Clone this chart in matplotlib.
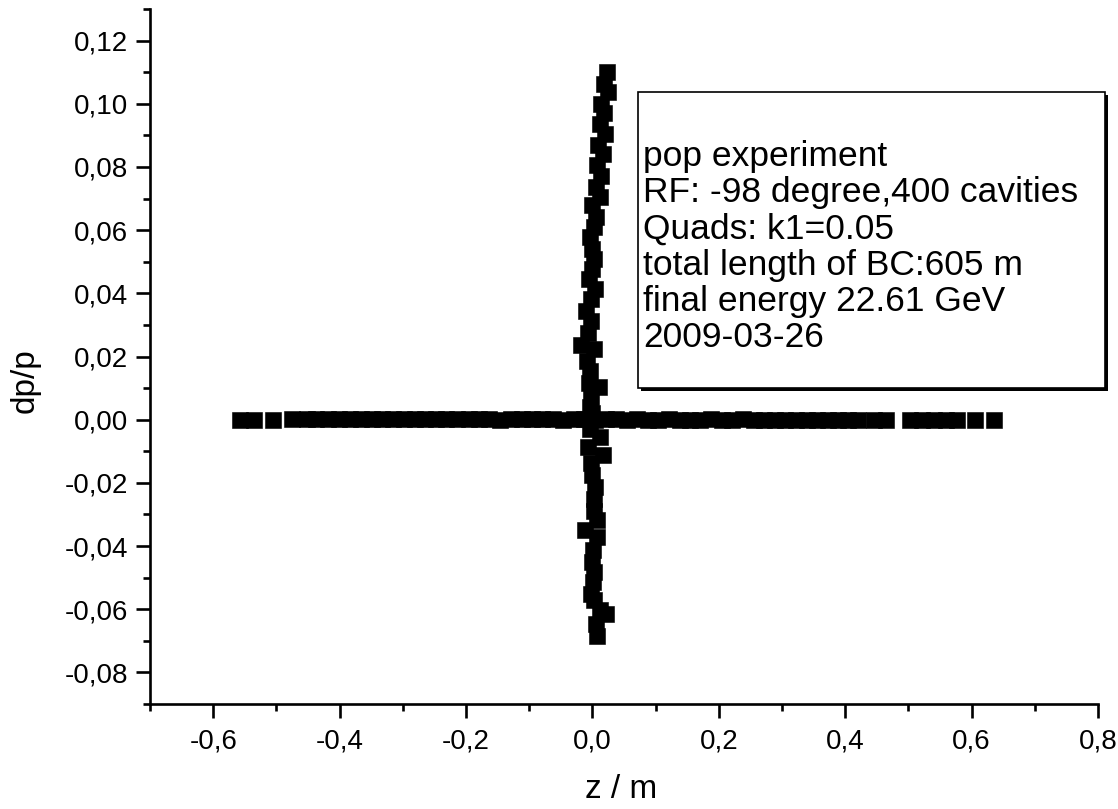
import matplotlib
matplotlib.use('Agg')
import matplotlib.pyplot as plt
import matplotlib.patches as patches
from matplotlib.ticker import MultipleLocator, FuncFormatter

plt.rcParams['font.family'] = ['Liberation Sans', 'DejaVu Sans']

# longitudinal phase space: vertical branch (z ~ 0)
z_vert = [0.0231, 0.0184, 0.0247, 0.0136, 0.0184, 0.0120, 0.0199, 0.0089, 0.0168, 0.0073,
          0.0136, 0.0057, 0.0120, -0.0006, 0.0057, 0.0025, -0.0038, -0.0006, 0.0025, -0.0006,
          -0.0054, 0.0041, -0.0022, -0.0101, -0.0022, -0.0070, -0.0180, 0.0025, -0.0085, -0.0038,
          -0.0054, 0.0104, -0.0022, -0.0038, -0.0006, -0.0038, 0.0120, -0.0070, 0.0168, -0.0022,
          -0.0006, 0.0041, 0.0025, 0.0025, 0.0073, -0.0117, 0.0073, 0.0009, -0.0006, 0.0025,
          0.0009, -0.0022, 0.0025, 0.0120, 0.0215, 0.0057, 0.0073]
dp_vert = [0.1100, 0.1062, 0.1037, 0.0998, 0.0970, 0.0935, 0.0903, 0.0868, 0.0840, 0.0805,
           0.0770, 0.0738, 0.0706, 0.0681, 0.0643, 0.0611, 0.0579, 0.0541, 0.0510, 0.0478,
           0.0446, 0.0414, 0.0383, 0.0344, 0.0313, 0.0275, 0.0237, 0.0224, 0.0186, 0.0154,
           0.0116, 0.0103, 0.0071, 0.0040, 0.0021, -0.0030, -0.0056, -0.0087, -0.0113, -0.0138,
           -0.0176, -0.0214, -0.0252, -0.0290, -0.0316, -0.0348, -0.0370, -0.0411, -0.0449, -0.0481,
           -0.0513, -0.0551, -0.0570, -0.0602, -0.0614, -0.0646, -0.0684]

# horizontal branch (dp/p ~ 0)
z_horz = [-0.558, -0.535, -0.505, -0.476, -0.452, -0.437, -0.418, -0.401, -0.384, -0.366,
          -0.349, -0.333, -0.316, -0.298, -0.281, -0.265, -0.247, -0.231, -0.214, -0.196,
          -0.180, -0.163, -0.146, -0.129, -0.112, -0.096, -0.079, -0.062, -0.046, -0.029,
          -0.013, 0.004, 0.021, 0.038, 0.054, 0.071, 0.088, 0.104, 0.121, 0.138,
          0.155, 0.171, 0.188, 0.205, 0.221, 0.238, 0.255, 0.272, 0.289, 0.305,
          0.322, 0.339, 0.356, 0.372, 0.389, 0.405, 0.421, 0.446, 0.465, 0.503,
          0.521, 0.540, 0.559, 0.577, 0.605, 0.635]
dp_horz = [0.0000, -0.0001, 0.0000, 0.0001, 0.0001, 0.0002, 0.0001, 0.0002, 0.0003, 0.0001,
           0.0002, 0.0001, 0.0003, 0.0002, 0.0001, 0.0003, 0.0002, 0.0001, 0.0002, 0.0003,
           0.0001, 0.0002, 0.0000, 0.0002, 0.0001, 0.0002, 0.0003, 0.0001, 0.0000, 0.0002,
           0.0001, -0.0001, 0.0001, 0.0002, 0.0000, 0.0001, -0.0001, 0.0000, 0.0001, 0.0000,
           -0.0001, 0.0000, 0.0001, -0.0001, 0.0000, 0.0001, 0.0000, -0.0001, 0.0000, -0.0001,
           0.0000, -0.0001, 0.0000, -0.0002, -0.0001, -0.0001, -0.0002, -0.0001, -0.0001, -0.0002,
           -0.0002, -0.0001, -0.0002, -0.0002, -0.0002, -0.0001]

info_lines = ['pop experiment', 'RF: -98 degree,400 cavities', 'Quads: k1=0.05',
              'total length of BC:605 m', 'final energy 22.61 GeV', '2009-03-26']

W, H = 1118, 809
fig = plt.figure(figsize=(W / 100, H / 100), dpi=100)
ax = fig.add_axes([150 / W, 1 - 704 / H, 948 / W, 695 / H])

ax.plot(z_horz, dp_horz, 's', color='k', ms=11.4, mew=0.4, mec='k', clip_on=False)
ax.plot(z_vert, dp_vert, 's', color='k', ms=11.4, mew=0.4, mec='k', clip_on=False)

ax.set_xlim(-0.7, 0.8)
ax.set_ylim(-0.09, 0.13)
for side in ['top', 'right']:
    ax.spines[side].set_visible(False)
for side in ['left', 'bottom']:
    ax.spines[side].set_linewidth(1.9)

ax.xaxis.set_major_locator(MultipleLocator(0.2))
ax.xaxis.set_minor_locator(MultipleLocator(0.1))
ax.yaxis.set_major_locator(MultipleLocator(0.02))
ax.yaxis.set_minor_locator(MultipleLocator(0.01))


def comma_fmt(nd):
    def f(v, pos):
        v = round(v, nd)
        if v == 0:
            v = 0.0
        return f'{v:.{nd}f}'.replace('.', ',')
    return FuncFormatter(f)


ax.xaxis.set_major_formatter(comma_fmt(1))
ax.yaxis.set_major_formatter(comma_fmt(2))
ax.tick_params(which='major', direction='out', length=10, width=1.9, labelsize=20)
ax.tick_params(which='minor', direction='out', length=5, width=1.9)
ax.tick_params(axis='x', pad=8)
ax.tick_params(axis='y', pad=6)

ax.set_xlabel('z / m', fontsize=24, va='center')
ax.xaxis.set_label_coords((621 - 150) / 948, (704 - 789) / 695)
ax.set_ylabel('dp/p', fontsize=24, va='center')
ax.yaxis.set_label_coords((25 - 150) / 948, (704 - 381) / 695)

# text box with shadow
bx0, bx1, by0, by1 = 638, 1105, 92, 388
fig.add_artist(patches.Rectangle(((bx0 + 3) / W, 1 - (by1 + 3) / H), (bx1 - bx0) / W, (by1 - by0) / H,
                                 transform=fig.transFigure, fc='k', ec='k', lw=0, zorder=5))
fig.add_artist(patches.Rectangle((bx0 / W, 1 - by1 / H), (bx1 - bx0) / W, (by1 - by0) / H,
                                 transform=fig.transFigure, fc='white', ec='k', lw=1.2, zorder=6))
for i, line in enumerate(info_lines):
    fig.text(643 / W, 1 - (166 + 36.3 * i) / H, line, fontsize=25.5, va='baseline', ha='left', zorder=7)

fig.savefig('out.png', dpi=100)
